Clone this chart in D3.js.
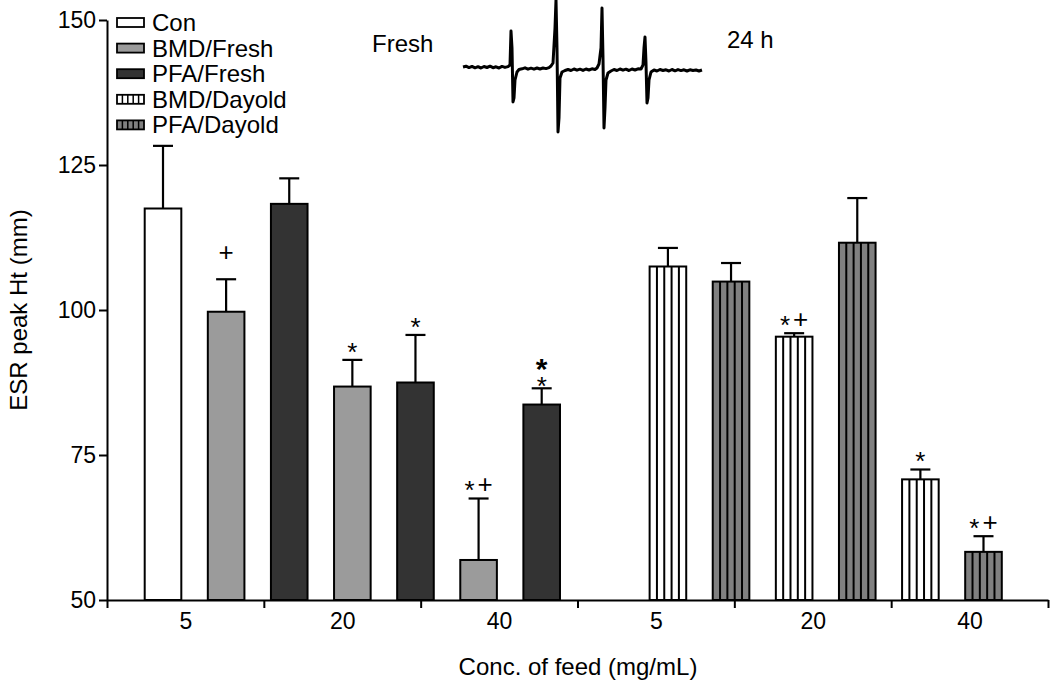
<!DOCTYPE html>
<html><head><meta charset="utf-8">
<script src="https://cdn.jsdelivr.net/npm/d3@7"></script>
<style>
body{margin:0;background:#fff}
svg{display:block}
text{font-family:"Liberation Sans",Arial,Helvetica,sans-serif;fill:#000}
</style>
</head><body>
<svg id="c" width="1050" height="682"></svg>
<script>
// ---------- data ----------
const seriesNames = ["Con", "BMD/Fresh", "PFA/Fresh", "BMD/Dayold", "PFA/Dayold"];
const groupLabels = ["5", "20", "40", "5", "20", "40"];
const yTicks = [50, 75, 100, 125, 150];
// bar slots in drawing order ("" = empty slot)
const barOrder  = ["Con","BMD/Fresh","PFA/Fresh","BMD/Fresh","PFA/Fresh","BMD/Fresh","PFA/Fresh","",
                   "BMD/Dayold","PFA/Dayold","BMD/Dayold","PFA/Dayold","BMD/Dayold","PFA/Dayold"];
const barValues = [117.5, 99.7, 118.3, 86.8, 87.5, 56.9, 83.7, null, 107.5, 104.9, 95.4, 111.6, 70.8, 58.3];
const barErrors = [10.8, 5.6, 4.4, 4.6, 8.2, 10.6, 2.8, null, 3.2, 3.2, 0.6, 7.7, 1.7, 2.7];
const barMarks  = ["", "+", "", "*", "*", "*+", "*\n*", "", "", "", "*+", "", "*", "*+"];
// inset ESR spectrum (field offset, amplitude)
const specX = [0,3,6,9,12,15,18,21,24,27,30,33,36,39,42,45,47,48,49,50,51,52,54,56,59,62,65,68,71,74,77,80,83,86,88,90,92,93,94,95,96,97,99,102,105,108,111,114,117,120,123,126,129,132,134,136,138,139,140,141,142,143,145,148,151,154,157,160,163,166,169,172,175,178,180,181,182,183,184,185,186,188,191,194,197,200,203,206,209,212,215,218,221,224,227,230,233,236,239];
const specY = [1,1.8,0.4,1.6,0.2,1.3,0,1.5,0.5,1.8,0.3,1.2,0,1.6,0.6,1.4,3,37,20,-34,-30,-12,-4,-1.5,-0.8,0.2,-1.2,-0.2,-1.2,0,-1,0,-0.6,0.4,2,5,40,68,20,-64,-50,-10,-4,-2.5,-1.5,-2.5,-1,-2.2,-1.2,-2.4,-1,-2,-0.8,-1.5,0,4,20,60,10,-60,-40,-12,-5,-3,-1.5,-2.5,-1,-2.2,-1.2,-2.5,-1,-2,-0.8,-1,3,20,31,5,-35,-30,-12,-4,-2,-3,-1.5,-2.5,-1.8,-3,-1.5,-2.8,-1.6,-2.6,-1.8,-3,-1.8,-2.5,-2,-3,-2];

// ---------- styles ----------
const fills = {"Con":"#ffffff","BMD/Fresh":"#9b9b9b","PFA/Fresh":"#333333","BMD/Dayold":"#ffffff","PFA/Dayold":"#808080"};
const striped = {"BMD/Dayold":true,"PFA/Dayold":true};
const FONT = 24, TICKFONT = 23, MARKFONT = 26;

const svg = d3.select("#c");

const y = d3.scaleLinear().domain([50, 150]).range([600, 20]);
const slots = d3.range(barOrder.length);
const xb = d3.scaleBand().domain(slots).range([131.45, 1015.05]).paddingInner(0.42).paddingOuter(0.21);
const xg = d3.scaleLinear().domain([0, groupLabels.length]).range([107, 1048]);

const bars = slots.filter(i => barValues[i] != null)
  .map(i => ({i, s: barOrder[i], v: barValues[i], e: barErrors[i], m: barMarks[i]}));

// error bars
const eg = svg.append("g").attr("stroke", "#000").attr("stroke-width", 2.2);
bars.forEach(d => {
  const cx = xb(d.i) + xb.bandwidth() / 2;
  eg.append("line").attr("x1", cx).attr("x2", cx).attr("y1", y(d.v)).attr("y2", y(d.v + d.e));
  eg.append("line").attr("x1", cx - 10).attr("x2", cx + 10).attr("y1", y(d.v + d.e)).attr("y2", y(d.v + d.e));
});

// bars
const bg = svg.append("g");
bars.forEach(d => {
  const x0 = xb(d.i), w = xb.bandwidth();
  bg.append("rect").attr("x", x0).attr("y", y(d.v)).attr("width", w).attr("height", y(50) - y(d.v))
    .attr("fill", fills[d.s]).attr("stroke", "#000").attr("stroke-width", 2);
  if (striped[d.s]) {
    for (let k = 1; k < 5; k++) {
      bg.append("line").attr("x1", x0 + k * w / 5).attr("x2", x0 + k * w / 5)
        .attr("y1", y(d.v)).attr("y2", y(50)).attr("stroke", "#000").attr("stroke-width", 2);
    }
  }
});

// significance marks
const off = {"*": 0.57, "+": 0.34};
const mg = svg.append("g");
bars.filter(d => d.m).forEach(d => {
  const cx = xb(d.i) + xb.bandwidth() / 2;
  const top = y(d.v + d.e);
  if (d.m.includes("\n")) {
    const fsB = 30;
    const t = mg.append("text").attr("x", cx).attr("y", top - 26 + off["*"] * fsB).attr("text-anchor", "middle");
    t.append("tspan").attr("font-size", fsB).attr("font-weight", "bold").text("*");
    t.append("tspan").attr("x", cx).attr("y", top - 8 + off["*"] * MARKFONT).attr("font-size", MARKFONT).text("*");
    return;
  }
  const gap = d.m === "+" ? 27 : 14;
  const t = mg.append("text").attr("x", cx).attr("y", top - gap).attr("text-anchor", "middle").attr("font-size", MARKFONT);
  let prev = 0;
  d.m.split("").forEach((c, j) => {
    t.append("tspan").attr("dy", (off[c] - prev) * MARKFONT).attr("dx", j > 0 ? 3 : 0).text(c);
    prev = off[c];
  });
});

// y axis
const ya = svg.append("g").attr("transform", "translate(107,0)")
  .call(d3.axisLeft(y).tickValues(yTicks).tickSize(8).tickSizeOuter(0).tickPadding(3));
ya.attr("font-size", TICKFONT).attr("font-family", null);
ya.selectAll("path,line").attr("stroke-width", 2);

// x axis ticks (group boundaries)
const xa = svg.append("g").attr("transform", "translate(0,600)")
  .call(d3.axisBottom(xg).tickValues(d3.range(groupLabels.length + 1)).tickSize(8).tickSizeOuter(0).tickFormat(""));
xa.selectAll("path,line").attr("stroke-width", 2);
// x axis labels
const xl = svg.append("g").attr("transform", "translate(0,600)")
  .call(d3.axisBottom(xg).tickValues(groupLabels.map((_, i) => i + 0.5)).tickSize(0).tickPadding(13)
    .tickFormat((_, i) => groupLabels[i]));
xl.select(".domain").remove();
xl.attr("font-size", TICKFONT).attr("font-family", null);

// axis titles
svg.append("text").attr("x", 578).attr("y", 675).attr("text-anchor", "middle").attr("font-size", FONT)
  .text("Conc. of feed (mg/mL)");
svg.append("text").attr("transform", "translate(27,310) rotate(-90)").attr("text-anchor", "middle")
  .attr("font-size", FONT).text("ESR peak Ht (mm)");

// legend
const lg = svg.append("g");
seriesNames.forEach((s, i) => {
  const cy = 22.5 + 25.6 * i;
  lg.append("rect").attr("x", 117).attr("y", cy - 4.5).attr("width", 27).attr("height", 9)
    .attr("fill", fills[s]).attr("stroke", "#000").attr("stroke-width", 1.8);
  if (striped[s]) {
    for (let k = 1; k < 5; k++) {
      lg.append("line").attr("x1", 117 + k * 27 / 5).attr("x2", 117 + k * 27 / 5)
        .attr("y1", cy - 4.5).attr("y2", cy + 4.5).attr("stroke", "#000").attr("stroke-width", 1.5);
    }
  }
  lg.append("text").attr("x", 152).attr("y", cy + 8.5).attr("font-size", FONT).text(s);
});

// inset spectrum
const sx = d3.scaleLinear().domain([0, 239]).range([463, 702]);
const sy = d3.scaleLinear().domain([-70, 70]).range([138, -2]);
svg.append("path").datum(specX.map((v, i) => [v, specY[i]]))
  .attr("d", d3.line().x(d => sx(d[0])).y(d => sy(d[1])))
  .attr("fill", "none").attr("stroke", "#000").attr("stroke-width", 3).attr("stroke-linejoin", "round");
svg.append("text").attr("x", 372).attr("y", 52).attr("font-size", FONT).text("Fresh");
svg.append("text").attr("x", 727).attr("y", 48).attr("font-size", FONT).text("24 h");
</script>
</body></html>
